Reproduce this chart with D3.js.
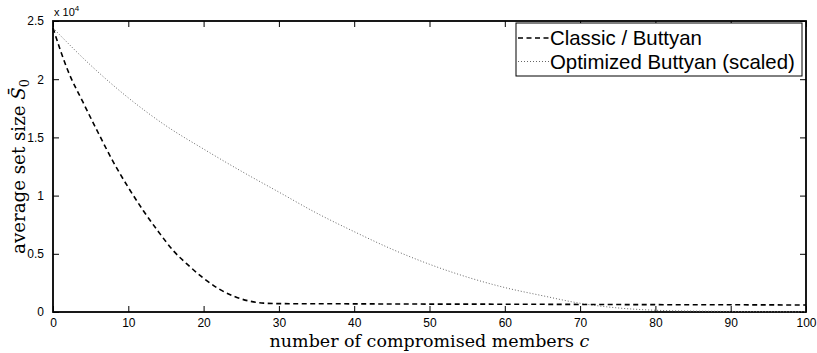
<!DOCTYPE html>
<html>
<head>
<meta charset="utf-8">
<script src="https://cdn.jsdelivr.net/npm/d3@7"></script>
<style>
  body { margin: 0; background: #fff; }
  svg { display: block; }
  .tick text { font-family: "Liberation Sans", Arial, sans-serif; font-size: 12px; }
</style>
</head>
<body>
<div id="chart"></div>
<script>
// data
var classicC = [0, 2, 4, 6, 8, 10, 12, 14, 16, 18, 20, 22, 24, 26, 28, 30, 40, 50, 60, 70, 80, 90, 100];
var classicS = [24400, 20700, 18000, 15400, 12900, 10700, 8700, 6900, 5250, 4000, 2900, 2000, 1350, 950, 760, 720, 700, 680, 670, 650, 630, 620, 600];

var optC = [0, 5, 10, 15, 20, 25, 30, 35, 40, 45, 50, 55, 60, 65, 70, 75, 80, 85, 90, 95, 100];
var optS = [24400, 21200, 18400, 16000, 14000, 12100, 10300, 8500, 6900, 5400, 4100, 3000, 2100, 1400, 750, 350, 150, 80, 50, 30, 20];

var xTicks = [0, 10, 20, 30, 40, 50, 60, 70, 80, 90, 100];
var yTicks = [0, 5000, 10000, 15000, 20000, 25000];
var yTickLabels = ["0", "0.5", "1", "1.5", "2", "2.5"];
var legendLabels = ["Classic / Buttyan", "Optimized Buttyan (scaled)"];

var margin = {top: 21, right: 11, bottom: 41, left: 53},
    width = 817 - margin.left - margin.right,
    height = 353 - margin.top - margin.bottom;

var svg = d3.select("#chart")
    .append("svg")
    .attr("width", 817)
    .attr("height", 353);

svg.append("rect").attr("width", 817).attr("height", 353).attr("fill", "#fff");

var g = svg.append("g")
    .attr("transform", "translate(" + margin.left + "," + margin.top + ")");

var x = d3.scaleLinear().domain([0, 100]).range([0, width]);
var y = d3.scaleLinear().domain([0, 25000]).range([height, 0]);

// axes, matlab style: ticks inside on all four sides
var xAxis = g.append("g")
    .attr("transform", "translate(0," + height + ")")
    .call(d3.axisBottom(x).tickValues(xTicks).tickSizeInner(-6).tickSizeOuter(0).tickPadding(6));
var xTop = g.append("g")
    .call(d3.axisTop(x).tickValues(xTicks).tickSizeInner(-6).tickSizeOuter(0).tickFormat(""));
var yAxis = g.append("g")
    .call(d3.axisLeft(y).tickValues(yTicks).tickSizeInner(-6).tickSizeOuter(0).tickPadding(9)
      .tickFormat(function(d, i) { return yTickLabels[i]; }));
var yRight = g.append("g")
    .attr("transform", "translate(" + width + ",0)")
    .call(d3.axisRight(y).tickValues(yTicks).tickSizeInner(-6).tickSizeOuter(0).tickFormat(""));

g.selectAll(".domain").remove();
g.selectAll(".tick line").attr("stroke", "#000").attr("stroke-width", 1);
g.selectAll(".tick text").attr("fill", "#000");
xAxis.selectAll(".tick text").attr("dy", "0.71em");

g.append("rect")
    .attr("width", width)
    .attr("height", height)
    .attr("fill", "none")
    .attr("stroke", "#000")
    .attr("stroke-width", 1.8);

// exponent label
var expo = svg.append("text")
    .attr("x", margin.left + 1)
    .attr("y", 16)
    .attr("font-family", "Liberation Sans, Arial, sans-serif")
    .attr("font-size", "11px");
expo.append("tspan").text("x 10");
expo.append("tspan").attr("font-size", "8px").attr("dy", -5).text("4");

var line = d3.line()
    .x(function(d) { return x(d[0]); })
    .y(function(d) { return y(d[1]); })
    .curve(d3.curveMonotoneX);

var classic = d3.zip(classicC, classicS);
var opt = d3.zip(optC, optS);

g.append("path")
    .datum(opt)
    .attr("d", line)
    .attr("fill", "none")
    .attr("stroke", "#666")
    .attr("stroke-width", 1)
    .attr("stroke-dasharray", "1,2");

g.append("path")
    .datum(classic)
    .attr("d", line)
    .attr("fill", "none")
    .attr("stroke", "#000")
    .attr("stroke-width", 1.6)
    .attr("stroke-dasharray", "5,3.5");

// axis titles / legend text sized to the reference width
function fit(sel, target) {
  var len = sel.node().getComputedTextLength();
  var fs = parseFloat(sel.attr("font-size"));
  sel.attr("font-size", (fs * target / len) + "px");
}

// legend
var lg = svg.append("g").attr("transform", "translate(516,23)");
lg.append("rect")
    .attr("width", 286)
    .attr("height", 53)
    .attr("fill", "#fff")
    .attr("stroke", "#000")
    .attr("stroke-width", 1);

var styles = [
  {stroke: "#000", w: 1.6, dash: "5,3.5"},
  {stroke: "#666", w: 1, dash: "1,2"}
];
var legTexts = [];
legendLabels.forEach(function(lab, i) {
  var cy = 15 + i * 23.5;
  lg.append("line")
      .attr("x1", 2).attr("x2", 33)
      .attr("y1", cy).attr("y2", cy)
      .attr("stroke", styles[i].stroke)
      .attr("stroke-width", styles[i].w)
      .attr("stroke-dasharray", styles[i].dash);
  legTexts.push(lg.append("text")
      .attr("x", 34)
      .attr("y", cy + 7)
      .attr("font-family", "Liberation Sans, Arial, sans-serif")
      .attr("font-size", "18px")
      .text(lab));
});
fit(legTexts[1], 245);
legTexts[0].attr("font-size", legTexts[1].attr("font-size"));

var xt = svg.append("text")
    .attr("x", margin.left + width / 2)
    .attr("y", 347)
    .attr("text-anchor", "middle")
    .attr("font-family", "DejaVu Serif, serif")
    .attr("font-size", "16px");
xt.append("tspan").text("number of compromised members ");
xt.append("tspan").attr("font-style", "italic").text("c");
fit(xt, 320);

var yt = svg.append("text")
    .attr("transform", "translate(25," + (margin.top + height / 2) + ") rotate(-90)")
    .attr("text-anchor", "middle")
    .attr("font-family", "DejaVu Serif, serif")
    .attr("font-size", "16px");
yt.append("tspan").text("average set size ");
yt.append("tspan").attr("font-style", "italic").text("S\u0304");
yt.append("tspan").attr("font-size", "0.7em").attr("dy", 4).text("0");
fit(yt, 175);
</script>
</body>
</html>
